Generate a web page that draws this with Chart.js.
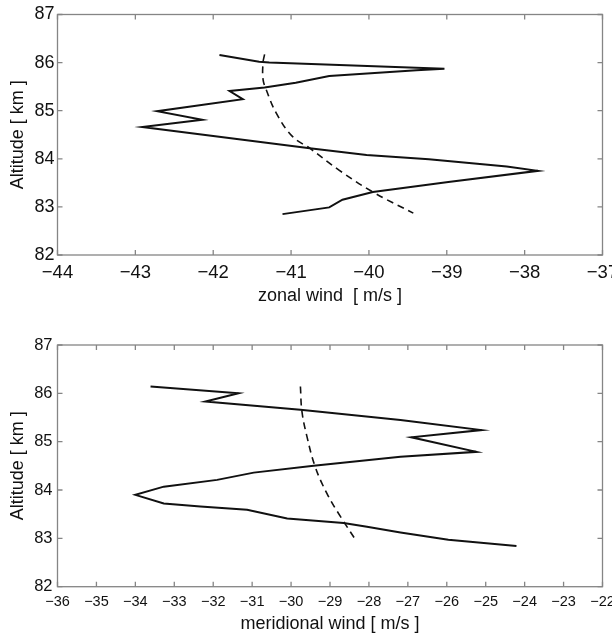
<!DOCTYPE html>
<html>
<head>
<meta charset="utf-8">
<script src="https://cdn.jsdelivr.net/npm/chart.js@4"></script>
<style>
  html, body { margin:0; padding:0; background:#fff; }
  body { width:612px; height:638px; position:relative; overflow:hidden; }
  .box { position:absolute; left:0; width:612px; }
</style>
</head>
<body>
<div class="box" style="top:0;height:320px"><canvas id="c1"></canvas></div>
<div class="box" style="top:320px;height:318px"><canvas id="c2"></canvas></div>
<script>
// ---- Data ----
const zonalAlt   = [86.16, 86.02, 86.00, 85.87, 85.84, 85.72, 85.58, 85.48, 85.41, 85.24, 84.99, 84.81, 84.66, 84.22, 84.08, 83.99, 83.84, 83.75, 83.52, 83.31, 83.15, 82.99, 82.85];
const zonalWind  = [-41.92, -41.41, -41.28, -39.03, -39.39, -40.51, -40.94, -41.34, -41.79, -41.62, -42.72, -42.14, -42.91, -40.76, -40.03, -39.23, -38.23, -37.83, -38.98, -39.95, -40.34, -40.51, -41.11];
const zonalFitAlt  = [86.17, 86.00, 85.65, 85.44, 84.95, 84.46, 84.22, 83.76, 83.31, 82.87];
const zonalFitWind = [-41.34, -41.36, -41.36, -41.32, -41.19, -40.98, -40.76, -40.38, -39.95, -39.43];

const meridAlt  = [86.14, 86.00, 85.83, 85.66, 85.45, 85.24, 85.09, 84.79, 84.69, 84.50, 84.36, 84.21, 84.07, 83.90, 83.72, 83.66, 83.59, 83.41, 83.32, 83.24, 83.12, 82.97, 82.84];
const meridWind = [-33.61, -31.35, -32.20, -29.76, -27.19, -25.11, -26.91, -25.24, -27.19, -29.42, -30.96, -31.90, -33.27, -34.00, -33.27, -32.33, -31.13, -30.10, -28.65, -28.05, -27.19, -25.96, -24.21];
const meridFitAlt  = [86.14, 85.62, 85.10, 84.48, 83.93, 83.45, 82.93];
const meridFitWind = [-29.76, -29.72, -29.59, -29.38, -29.08, -28.73, -28.31];

const altTicks = [82, 83, 84, 85, 86, 87];
const zonalRange = [-44, -37];
const meridRange = [-36, -22];

// ---- helpers ----
const pts = (xs, ys) => xs.map((x, i) => ({x: x, y: ys[i]}));
const fmt = v => (v < 0 ? '\u2212' + Math.abs(v) : String(v));
const FONT = '"Liberation Sans", Arial, Helvetica, sans-serif';

const boxTicks = {
  id: 'boxTicks',
  afterDatasetsDraw(chart) {
    const {ctx, chartArea: a, scales: {x, y}} = chart;
    const L = 5;
    ctx.save();
    ctx.strokeStyle = '#858585';
    ctx.lineWidth = 1.3;
    ctx.strokeRect(a.left, a.top, a.right - a.left, a.bottom - a.top);
    ctx.beginPath();
    x.ticks.forEach(t => {
      const px = x.getPixelForValue(t.value);
      ctx.moveTo(px, a.bottom); ctx.lineTo(px, a.bottom - L);
      ctx.moveTo(px, a.top); ctx.lineTo(px, a.top + L);
    });
    y.ticks.forEach(t => {
      const py = y.getPixelForValue(t.value);
      ctx.moveTo(a.left, py); ctx.lineTo(a.left + L, py);
      ctx.moveTo(a.right, py); ctx.lineTo(a.right - L, py);
    });
    ctx.stroke();
    ctx.restore();
  }
};

function makeChart(id, cfg) {
  return new Chart(document.getElementById(id), {
    type: 'scatter',
    data: {
      datasets: [
        { data: pts(cfg.wind, cfg.alt), showLine: true, borderColor: '#111', borderWidth: 2,
          pointRadius: 0, tension: 0, fill: false },
        { data: pts(cfg.fitWind, cfg.fitAlt), showLine: true, borderColor: '#111', borderWidth: 1.6,
          borderDash: [7, 5], pointRadius: 0, tension: 0.4, fill: false }
      ]
    },
    options: {
      responsive: true, maintainAspectRatio: false, animation: false,
      layout: { padding: { left: 0, right: 612 - 602.5, top: cfg.top, bottom: 0 } },
      plugins: { legend: { display: false }, tooltip: { enabled: false } },
      scales: {
        x: {
          type: 'linear', min: cfg.range[0], max: cfg.range[1],
          afterBuildTicks: s => { const t = []; for (let v = cfg.range[0]; v <= cfg.range[1]; v++) t.push({value: v}); s.ticks = t; },
          afterFit: s => { s.height = cfg.xH; s.paddingLeft = 0; s.paddingRight = 0; },
          grid: { display: false, drawTicks: false },
          border: { display: false },
          ticks: { color: '#111', padding: cfg.xPad, autoSkip: false, maxRotation: 0,
                   font: { family: FONT, size: cfg.xFont }, callback: v => fmt(v) },
          title: { display: true, text: cfg.xTitle, color: '#111',
                   font: { family: FONT, size: 18 }, padding: { top: 0, bottom: cfg.titlePadB } }
        },
        y: {
          type: 'linear', min: 82, max: 87,
          afterBuildTicks: s => { s.ticks = altTicks.map(v => ({value: v})); },
          afterFit: s => { s.width = 57.5; s.paddingTop = 0; s.paddingBottom = 0; },
          grid: { display: false, drawTicks: false },
          border: { display: false },
          ticks: { color: '#111', padding: cfg.yPad, font: { family: FONT, size: cfg.yFont }, callback: v => fmt(v) },
          title: { display: true, text: 'Altitude [ km ]', color: '#111',
                   font: { family: FONT, size: 18 }, padding: { top: 7, bottom: 0 } }
        }
      }
    },
    plugins: [boxTicks]
  });
}

makeChart('c1', {
  alt: zonalAlt, wind: zonalWind, fitAlt: zonalFitAlt, fitWind: zonalFitWind,
  range: zonalRange, xTitle: 'zonal wind  [ m/s ]',
  top: 14.5, xH: 65, xPad: 7, xFont: 18.5, yFont: 18, yPad: 3, titlePadB: 13
});
makeChart('c2', {
  alt: meridAlt, wind: meridWind, fitAlt: meridFitAlt, fitWind: meridFitWind,
  range: meridRange, xTitle: 'meridional wind [ m/s ]',
  top: 25, xH: 51.3, xPad: 7, xFont: 14.5, yFont: 16.5, yPad: 5, titlePadB: 3
});
</script>
</body>
</html>
